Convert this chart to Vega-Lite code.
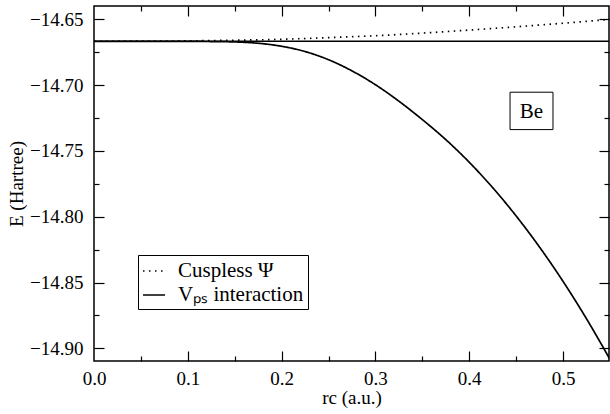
{
  "$schema": "https://vega.github.io/schema/vega-lite/v6.json",
  "width": 515,
  "height": 355,
  "autosize": {"type": "none"},
  "padding": {"left": 94, "top": 6, "right": 1, "bottom": 53},
  "background": "white",
  "config": {
    "view": {"stroke": "black", "strokeWidth": 1.5},
    "font": "Liberation Serif",
    "axis": {
      "labelFont": "Liberation Serif",
      "titleFont": "Liberation Serif",
      "labelColor": "black",
      "titleColor": "black",
      "tickColor": "black",
      "tickWidth": 1.2,
      "grid": false,
      "domain": false,
      "labelFontSize": 19,
      "titleFontSize": 19,
      "titleFontWeight": "normal"
    },
    "legend": {"labelFont": "Liberation Serif", "labelFontSize": 21, "labelColor": "black"}
  },
  "datasets": {
    "curves": [
      {"r": 0.0, "E": -14.6667, "series": "Cuspless Ψ"},
      {"r": 0.05, "E": -14.6666, "series": "Cuspless Ψ"},
      {"r": 0.1, "E": -14.6664, "series": "Cuspless Ψ"},
      {"r": 0.15, "E": -14.6659, "series": "Cuspless Ψ"},
      {"r": 0.2, "E": -14.6652, "series": "Cuspless Ψ"},
      {"r": 0.25, "E": -14.6639, "series": "Cuspless Ψ"},
      {"r": 0.3, "E": -14.6625, "series": "Cuspless Ψ"},
      {"r": 0.35, "E": -14.6605, "series": "Cuspless Ψ"},
      {"r": 0.4, "E": -14.6582, "series": "Cuspless Ψ"},
      {"r": 0.45, "E": -14.6557, "series": "Cuspless Ψ"},
      {"r": 0.5, "E": -14.653, "series": "Cuspless Ψ"},
      {"r": 0.55, "E": -14.6501, "series": "Cuspless Ψ"},
      {"r": 0.0, "E": -14.6667, "series": "Vₚₛ interaction"},
      {"r": 0.05, "E": -14.6667, "series": "Vₚₛ interaction"},
      {"r": 0.1, "E": -14.6668, "series": "Vₚₛ interaction"},
      {"r": 0.125, "E": -14.6669, "series": "Vₚₛ interaction"},
      {"r": 0.15, "E": -14.6672, "series": "Vₚₛ interaction"},
      {"r": 0.175, "E": -14.6682, "series": "Vₚₛ interaction"},
      {"r": 0.2, "E": -14.6705, "series": "Vₚₛ interaction"},
      {"r": 0.225, "E": -14.6745, "series": "Vₚₛ interaction"},
      {"r": 0.25, "E": -14.6807, "series": "Vₚₛ interaction"},
      {"r": 0.275, "E": -14.6892, "series": "Vₚₛ interaction"},
      {"r": 0.3, "E": -14.6997, "series": "Vₚₛ interaction"},
      {"r": 0.325, "E": -14.7122, "series": "Vₚₛ interaction"},
      {"r": 0.35, "E": -14.7262, "series": "Vₚₛ interaction"},
      {"r": 0.375, "E": -14.7414, "series": "Vₚₛ interaction"},
      {"r": 0.4, "E": -14.7586, "series": "Vₚₛ interaction"},
      {"r": 0.425, "E": -14.7779, "series": "Vₚₛ interaction"},
      {"r": 0.45, "E": -14.7994, "series": "Vₚₛ interaction"},
      {"r": 0.475, "E": -14.8231, "series": "Vₚₛ interaction"},
      {"r": 0.5, "E": -14.8491, "series": "Vₚₛ interaction"},
      {"r": 0.525, "E": -14.8775, "series": "Vₚₛ interaction"},
      {"r": 0.55, "E": -14.9083, "series": "Vₚₛ interaction"}
    ]
  },
  "data": {"name": "curves"},
  "resolve": {"axis": {"x": "independent", "y": "independent"}},
  "layer": [
    {
      "mark": {"type": "point", "opacity": 0},
      "encoding": {
        "x": {"field": "r", "type": "quantitative", "scale": {"domain": [0, 0.549], "nice": false, "zero": false},
          "axis": {"orient": "bottom", "labels": false, "title": null, "values": [0.1, 0.2, 0.3, 0.4, 0.5], "tickSize": -10}},
        "y": {"field": "E", "type": "quantitative", "scale": {"domain": [-14.9096, -14.6399], "nice": false, "zero": false},
          "axis": {"orient": "left", "labels": false, "title": null, "values": [-14.9, -14.85, -14.8, -14.75, -14.7, -14.65], "tickSize": -10}}
      }
    },
    {
      "mark": {"type": "point", "opacity": 0},
      "encoding": {
        "x": {"field": "r", "type": "quantitative", "scale": {"domain": [0, 0.549], "nice": false, "zero": false},
          "axis": {"orient": "bottom", "labels": false, "title": null, "values": [0.05, 0.15, 0.25, 0.35, 0.45], "tickSize": -5}},
        "y": {"field": "E", "type": "quantitative", "scale": {"domain": [-14.9096, -14.6399], "nice": false, "zero": false},
          "axis": {"orient": "left", "labels": false, "title": null, "values": [-14.875, -14.825, -14.775, -14.725, -14.675], "tickSize": -5}}
      }
    },
    {
      "mark": {"type": "point", "opacity": 0},
      "encoding": {
        "x": {"field": "r", "type": "quantitative", "scale": {"domain": [0, 0.549], "nice": false, "zero": false},
          "axis": {"orient": "top", "labels": false, "title": null, "values": [0.1, 0.2, 0.3, 0.4, 0.5], "tickSize": -10}},
        "y": {"field": "E", "type": "quantitative", "scale": {"domain": [-14.9096, -14.6399], "nice": false, "zero": false},
          "axis": {"orient": "right", "labels": false, "title": null, "values": [-14.9, -14.85, -14.8, -14.75, -14.7, -14.65], "tickSize": -10}}
      }
    },
    {
      "mark": {"type": "point", "opacity": 0},
      "encoding": {
        "x": {"field": "r", "type": "quantitative", "scale": {"domain": [0, 0.549], "nice": false, "zero": false},
          "axis": {"orient": "top", "labels": false, "title": null, "values": [0.05, 0.15, 0.25, 0.35, 0.45], "tickSize": -5}},
        "y": {"field": "E", "type": "quantitative", "scale": {"domain": [-14.9096, -14.6399], "nice": false, "zero": false},
          "axis": {"orient": "right", "labels": false, "title": null, "values": [-14.875, -14.825, -14.775, -14.725, -14.675], "tickSize": -5}}
      }
    },
    {
      "data": {"values": [{"ref": "exact"}]},
      "mark": {"type": "rule", "color": "black", "strokeWidth": 1.6},
      "encoding": {
        "y": {"datum": -14.6667, "type": "quantitative", "scale": {"domain": [-14.9096, -14.6399], "nice": false, "zero": false}, "axis": null}
      }
    },
    {
      "mark": {"type": "line", "color": "black", "strokeWidth": 1.7, "clip": true, "strokeCap": "butt", "interpolate": "monotone"},
      "encoding": {
        "x": {"field": "r", "type": "quantitative", "scale": {"domain": [0, 0.549], "nice": false, "zero": false},
          "axis": {"orient": "bottom", "ticks": false, "values": [0, 0.1, 0.2, 0.3, 0.4, 0.5], "format": ".1f", "labelPadding": 8, "labelFlush": false, "title": "rc (a.u.)", "titlePadding": 0}},
        "y": {"field": "E", "type": "quantitative", "scale": {"domain": [-14.9096, -14.6399], "nice": false, "zero": false},
          "axis": {"orient": "left", "ticks": false, "values": [-14.9, -14.85, -14.8, -14.75, -14.7, -14.65], "format": ".2f", "labelPadding": 11, "labelFlush": false, "title": "E (Hartree)", "titlePadding": 3}},
        "strokeDash": {"field": "series", "type": "nominal",
          "scale": {"domain": ["Cuspless Ψ", "Vₚₛ interaction"], "range": [[1.5, 4.5], [1, 0]]},
          "legend": {"title": null, "orient": "none", "legendX": 44, "legendY": 249, "direction": "vertical",
            "symbolType": "stroke", "symbolSize": 484, "symbolStrokeWidth": 1.7, "symbolStrokeColor": "black",
            "labelFont": "Liberation Serif", "labelFontSize": 21, "labelColor": "black", "labelOffset": 12,
            "padding": 4, "rowPadding": 2, "strokeColor": "black", "fillColor": "white", "cornerRadius": 0}}
      }
    },
    {
      "data": {"values": [{"label": "Be"}]},
      "mark": {"type": "rect", "fill": "white", "stroke": "black", "strokeWidth": 1},
      "encoding": {
        "x": {"datum": 0.4435, "type": "quantitative", "scale": {"domain": [0, 0.549], "nice": false, "zero": false}, "axis": null},
        "x2": {"datum": 0.4893},
        "y": {"datum": -14.7054, "type": "quantitative", "scale": {"domain": [-14.9096, -14.6399], "nice": false, "zero": false}, "axis": null},
        "y2": {"datum": -14.7338}
      }
    },
    {
      "data": {"values": [{"label": "Be"}]},
      "mark": {"type": "text", "font": "Liberation Serif", "fontSize": 21, "color": "black", "baseline": "middle", "align": "center", "dy": 1},
      "encoding": {
        "x": {"datum": 0.4664, "type": "quantitative", "scale": {"domain": [0, 0.549], "nice": false, "zero": false}, "axis": null},
        "y": {"datum": -14.7196, "type": "quantitative", "scale": {"domain": [-14.9096, -14.6399], "nice": false, "zero": false}, "axis": null},
        "text": {"field": "label"}
      }
    }
  ]
}
